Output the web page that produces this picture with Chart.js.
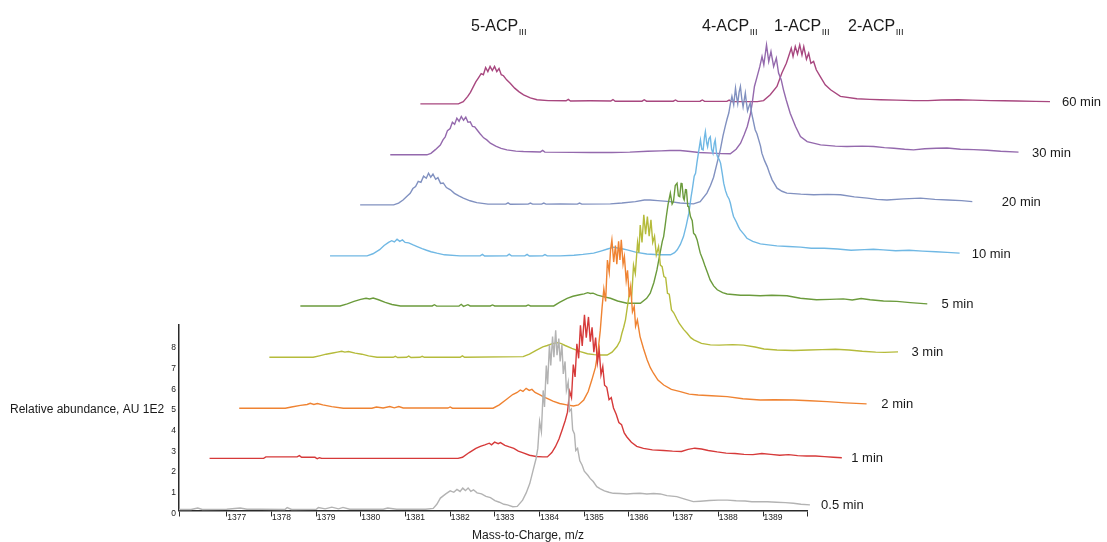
<!DOCTYPE html>
<html><head><meta charset="utf-8">
<script src="https://cdn.jsdelivr.net/npm/chart.js@4.4.1/dist/chart.umd.min.js"></script>
<style>html,body{margin:0;padding:0;background:#fff;}#wrap{width:1107px;height:542px;}</style>
</head><body><div id="wrap"><canvas id="c" width="1107" height="542"></canvas></div>
<script>
// ---- data: [m/z, relative abundance (AU 1E2)] per time point ----
const traceLabels = ['0.5 min','1 min','2 min','3 min','5 min','10 min','20 min','30 min','60 min'];
const t05 = [[1375.93,0.05],[1376.2,0.05],[1376.35,0.12],[1376.45,0.05],[1377.0,0.06],[1377.3,0.12],[1377.45,0.06],[1377.75,0.06],[1378.3,0.05],[1378.35,0.14],[1378.45,0.05],[1379.0,0.06],[1379.05,0.14],[1379.2,0.08],[1379.35,0.16],[1379.5,0.08],[1379.6,0.15],[1379.75,0.06],[1380.5,0.06],[1380.6,0.12],[1380.8,0.06],[1381.45,0.06],[1381.62,0.1],[1381.7,0.3],[1381.78,0.6],[1381.9,0.8],[1382.0,0.95],[1382.08,0.88],[1382.15,1.02],[1382.22,0.92],[1382.28,1.08],[1382.34,0.96],[1382.4,1.09],[1382.46,0.93],[1382.52,1.0],[1382.6,0.85],[1382.7,0.8],[1382.8,0.68],[1382.9,0.62],[1383.0,0.48],[1383.1,0.4],[1383.2,0.3],[1383.28,0.27],[1383.4,0.18],[1383.5,0.2],[1383.62,0.5],[1383.7,0.85],[1383.78,1.3],[1383.85,1.9],[1383.92,2.5],[1383.96,3.0],[1384.0,4.3],[1384.04,3.8],[1384.08,5.8],[1384.11,5.0],[1384.15,7.0],[1384.18,6.1],[1384.22,8.0],[1384.25,7.0],[1384.29,8.4],[1384.32,7.4],[1384.36,8.7],[1384.39,7.5],[1384.43,8.3],[1384.46,7.2],[1384.5,8.0],[1384.53,6.6],[1384.57,7.2],[1384.6,5.8],[1384.64,6.2],[1384.67,4.8],[1384.71,4.9],[1384.74,3.9],[1384.78,3.7],[1384.81,2.9],[1384.85,3.0],[1384.9,2.4],[1384.95,2.2],[1385.0,1.9],[1385.08,1.7],[1385.13,1.55],[1385.2,1.4],[1385.28,1.15],[1385.36,1.05],[1385.45,0.95],[1385.55,0.88],[1385.65,0.83],[1385.8,0.82],[1385.95,0.8],[1386.1,0.82],[1386.25,0.83],[1386.4,0.8],[1386.55,0.82],[1386.7,0.8],[1386.85,0.72],[1387.07,0.67],[1387.25,0.55],[1387.44,0.43],[1387.6,0.45],[1387.8,0.48],[1388.0,0.5],[1388.2,0.5],[1388.4,0.47],[1388.6,0.46],[1388.75,0.42],[1388.94,0.43],[1389.1,0.42],[1389.3,0.4],[1389.5,0.38],[1389.68,0.35],[1389.85,0.3],[1390.05,0.27]];
const t1 = [[1375.94,0.07],[1377.15,0.07],[1377.2,0.14],[1377.9,0.14],[1377.95,0.2],[1378.0,0.12],[1378.3,0.12],[1378.35,0.05],[1378.4,0.1],[1378.45,0.07],[1381.5,0.07],[1381.6,0.12],[1381.75,0.35],[1381.9,0.55],[1382.0,0.65],[1382.1,0.72],[1382.2,0.8],[1382.25,0.72],[1382.32,0.85],[1382.4,0.78],[1382.45,0.83],[1382.55,0.7],[1382.65,0.62],[1382.75,0.55],[1382.85,0.42],[1382.96,0.33],[1383.1,0.22],[1383.25,0.16],[1383.4,0.14],[1383.5,0.14],[1383.6,0.35],[1383.68,0.63],[1383.76,1.0],[1383.83,1.44],[1383.9,1.9],[1383.95,2.3],[1384.0,3.3],[1384.04,3.0],[1384.08,4.6],[1384.12,4.0],[1384.16,5.6],[1384.2,4.9],[1384.24,6.5],[1384.28,5.5],[1384.33,7.0],[1384.37,5.9],[1384.42,6.9],[1384.46,5.7],[1384.5,6.4],[1384.54,5.2],[1384.58,5.9],[1384.62,4.7],[1384.66,5.3],[1384.7,4.1],[1384.74,4.5],[1384.78,3.6],[1384.83,3.5],[1384.88,2.9],[1384.93,3.0],[1384.98,2.5],[1385.04,2.2],[1385.1,1.8],[1385.16,1.7],[1385.22,1.3],[1385.28,1.1],[1385.38,0.85],[1385.5,0.65],[1385.65,0.55],[1385.85,0.48],[1386.1,0.45],[1386.3,0.42],[1386.5,0.4],[1386.65,0.5],[1386.8,0.56],[1386.95,0.52],[1387.1,0.45],[1387.3,0.38],[1387.5,0.32],[1387.7,0.3],[1387.9,0.26],[1388.1,0.25],[1388.3,0.3],[1388.5,0.26],[1388.7,0.22],[1388.9,0.25],[1389.1,0.2],[1389.3,0.18],[1389.5,0.18],[1389.7,0.15],[1389.9,0.12],[1390.09,0.1]];
const t2 = [[1375.93,0.04],[1376.96,0.04],[1377.1,0.1],[1377.3,0.18],[1377.45,0.22],[1377.52,0.28],[1377.6,0.22],[1377.68,0.27],[1377.8,0.2],[1378.0,0.12],[1378.26,0.04],[1378.9,0.04],[1379.0,0.1],[1379.15,0.05],[1379.3,0.12],[1379.4,0.06],[1379.5,0.12],[1379.6,0.05],[1380.6,0.05],[1380.65,0.1],[1380.7,0.04],[1381.61,0.04],[1381.75,0.2],[1381.9,0.45],[1382.05,0.7],[1382.15,0.8],[1382.22,0.92],[1382.28,0.85],[1382.35,1.0],[1382.42,0.9],[1382.48,0.95],[1382.55,0.8],[1382.65,0.7],[1382.75,0.58],[1382.82,0.52],[1382.95,0.38],[1383.1,0.27],[1383.26,0.2],[1383.41,0.15],[1383.52,0.2],[1383.64,0.44],[1383.74,0.85],[1383.82,1.4],[1383.9,2.0],[1383.96,2.8],[1384.01,3.8],[1384.05,4.9],[1384.09,5.8],[1384.13,5.2],[1384.17,7.2],[1384.21,6.6],[1384.24,7.7],[1384.27,8.17],[1384.31,7.1],[1384.35,7.9],[1384.38,7.0],[1384.42,8.1],[1384.45,7.2],[1384.48,8.17],[1384.52,7.0],[1384.55,7.36],[1384.59,6.2],[1384.62,6.7],[1384.66,5.4],[1384.69,5.9],[1384.73,4.7],[1384.77,4.95],[1384.8,4.0],[1384.84,4.3],[1384.9,3.5],[1384.98,2.9],[1385.06,2.37],[1385.13,2.0],[1385.2,1.73],[1385.3,1.4],[1385.43,1.16],[1385.6,0.95],[1385.8,0.84],[1386.0,0.72],[1386.2,0.68],[1386.5,0.64],[1386.85,0.6],[1387.2,0.5],[1387.59,0.44],[1387.9,0.45],[1388.33,0.44],[1388.7,0.4],[1389.09,0.36],[1389.5,0.3],[1389.97,0.25]];
const t3 = [[1375.93,0.05],[1376.91,0.05],[1377.05,0.12],[1377.2,0.2],[1377.35,0.26],[1377.45,0.3],[1377.55,0.34],[1377.62,0.3],[1377.7,0.33],[1377.85,0.25],[1378.0,0.2],[1378.15,0.12],[1378.34,0.05],[1378.7,0.05],[1378.75,0.1],[1378.8,0.04],[1379.0,0.05],[1379.05,0.11],[1379.1,0.04],[1379.3,0.05],[1379.35,0.1],[1379.4,0.05],[1380.2,0.05],[1380.25,0.12],[1380.3,0.05],[1381.61,0.08],[1381.75,0.2],[1381.9,0.38],[1382.05,0.55],[1382.15,0.62],[1382.25,0.7],[1382.37,0.76],[1382.45,0.72],[1382.55,0.62],[1382.7,0.48],[1382.89,0.32],[1383.05,0.22],[1383.2,0.18],[1383.34,0.16],[1383.49,0.16],[1383.6,0.3],[1383.71,0.57],[1383.78,0.85],[1383.82,1.21],[1383.86,1.5],[1383.9,1.86],[1383.95,2.6],[1384.0,3.3],[1384.04,3.0],[1384.08,4.5],[1384.12,4.1],[1384.17,5.6],[1384.2,5.1],[1384.23,6.44],[1384.27,5.6],[1384.31,6.93],[1384.35,6.0],[1384.39,6.85],[1384.43,5.9],[1384.47,6.69],[1384.51,5.6],[1384.55,5.9],[1384.59,5.0],[1384.64,5.4],[1384.68,4.5],[1384.72,4.43],[1384.76,3.95],[1384.8,3.9],[1384.84,3.14],[1384.88,3.1],[1384.93,2.34],[1384.98,2.2],[1385.05,1.9],[1385.1,1.7],[1385.2,1.4],[1385.28,1.21],[1385.36,1.0],[1385.43,0.89],[1385.6,0.72],[1385.8,0.65],[1386.0,0.64],[1386.3,0.66],[1386.54,0.64],[1386.8,0.55],[1387.0,0.45],[1387.29,0.4],[1387.66,0.38],[1388.0,0.4],[1388.3,0.42],[1388.6,0.44],[1388.9,0.4],[1389.2,0.34],[1389.5,0.3],[1389.7,0.29],[1390.0,0.31]];
const t5 = [[1375.95,0.08],[1376.84,0.08],[1377.0,0.18],[1377.15,0.3],[1377.3,0.4],[1377.42,0.45],[1377.5,0.42],[1377.58,0.46],[1377.7,0.38],[1377.85,0.25],[1378.0,0.15],[1378.19,0.08],[1378.9,0.08],[1378.95,0.14],[1379.0,0.07],[1379.5,0.08],[1379.55,0.16],[1379.6,0.06],[1379.7,0.14],[1379.75,0.08],[1380.2,0.08],[1380.25,0.13],[1380.3,0.08],[1381.0,0.08],[1381.05,0.13],[1381.1,0.08],[1381.62,0.08],[1381.75,0.25],[1381.92,0.45],[1382.05,0.55],[1382.2,0.62],[1382.3,0.66],[1382.38,0.72],[1382.44,0.68],[1382.5,0.7],[1382.6,0.6],[1382.75,0.52],[1382.89,0.45],[1383.05,0.32],[1383.26,0.21],[1383.56,0.21],[1383.7,0.45],[1383.78,0.7],[1383.86,1.2],[1383.93,1.82],[1384.0,2.63],[1384.05,3.2],[1384.08,3.43],[1384.11,3.9],[1384.14,4.4],[1384.18,5.0],[1384.23,5.53],[1384.27,5.0],[1384.3,5.12],[1384.34,5.9],[1384.38,6.01],[1384.41,5.4],[1384.44,5.36],[1384.47,6.0],[1384.49,6.01],[1384.52,5.3],[1384.54,5.2],[1384.57,5.7],[1384.59,5.69],[1384.62,4.9],[1384.64,4.88],[1384.68,4.4],[1384.72,4.2],[1384.75,3.59],[1384.79,3.5],[1384.83,3.27],[1384.87,2.9],[1384.9,2.63],[1384.96,2.3],[1385.01,1.98],[1385.06,1.7],[1385.12,1.34],[1385.2,1.05],[1385.28,0.86],[1385.4,0.72],[1385.5,0.66],[1385.8,0.6],[1386.0,0.6],[1386.24,0.57],[1386.5,0.6],[1386.84,0.57],[1387.14,0.45],[1387.5,0.38],[1387.8,0.4],[1388.1,0.42],[1388.3,0.37],[1388.5,0.44],[1388.7,0.38],[1389.0,0.32],[1389.3,0.3],[1389.6,0.24],[1389.98,0.18]];
const t10 = [[1375.94,0.05],[1376.77,0.05],[1376.9,0.15],[1377.05,0.35],[1377.15,0.55],[1377.25,0.7],[1377.32,0.78],[1377.38,0.72],[1377.44,0.85],[1377.5,0.75],[1377.56,0.82],[1377.62,0.7],[1377.7,0.68],[1377.8,0.58],[1377.89,0.5],[1378.0,0.4],[1378.1,0.32],[1378.2,0.25],[1378.33,0.18],[1378.5,0.1],[1378.85,0.05],[1379.3,0.05],[1379.35,0.12],[1379.4,0.04],[1379.9,0.05],[1379.95,0.13],[1380.0,0.05],[1380.3,0.05],[1380.35,0.12],[1380.4,0.04],[1380.7,0.05],[1380.75,0.11],[1380.8,0.05],[1381.09,0.05],[1381.4,0.08],[1381.6,0.12],[1381.84,0.18],[1382.0,0.28],[1382.15,0.38],[1382.29,0.47],[1382.4,0.42],[1382.5,0.38],[1382.59,0.34],[1382.8,0.22],[1383.03,0.14],[1383.3,0.1],[1383.56,0.1],[1383.65,0.2],[1383.71,0.34],[1383.78,0.6],[1383.85,0.98],[1383.91,1.5],[1383.97,2.11],[1384.02,2.9],[1384.05,3.3],[1384.09,3.9],[1384.12,4.04],[1384.15,4.53],[1384.19,5.1],[1384.23,5.65],[1384.26,5.2],[1384.29,5.17],[1384.32,5.8],[1384.34,6.05],[1384.37,5.5],[1384.39,5.32],[1384.42,5.7],[1384.45,5.8],[1384.48,5.2],[1384.51,5.0],[1384.54,5.5],[1384.56,5.65],[1384.59,5.0],[1384.61,4.85],[1384.65,4.7],[1384.68,4.53],[1384.72,4.0],[1384.75,3.56],[1384.79,3.2],[1384.83,2.95],[1384.87,2.8],[1384.9,2.59],[1384.94,2.2],[1384.97,1.95],[1385.03,1.7],[1385.08,1.46],[1385.12,1.3],[1385.2,1.1],[1385.27,0.9],[1385.4,0.75],[1385.57,0.63],[1385.75,0.58],[1385.94,0.53],[1386.2,0.5],[1386.47,0.47],[1386.71,0.42],[1387.0,0.42],[1387.3,0.38],[1387.6,0.32],[1387.9,0.35],[1388.1,0.37],[1388.32,0.34],[1388.6,0.3],[1388.9,0.32],[1389.2,0.28],[1389.5,0.25],[1389.75,0.22],[1390.03,0.18]];
const t20 = [[1375.94,0.06],[1376.69,0.06],[1376.8,0.15],[1376.9,0.3],[1377.0,0.5],[1377.06,0.62],[1377.12,0.85],[1377.18,0.95],[1377.24,1.2],[1377.3,1.15],[1377.36,1.45],[1377.42,1.35],[1377.47,1.59],[1377.52,1.4],[1377.57,1.55],[1377.63,1.3],[1377.68,1.38],[1377.74,1.1],[1377.8,1.12],[1377.87,0.9],[1377.96,0.79],[1378.05,0.62],[1378.15,0.5],[1378.25,0.39],[1378.4,0.26],[1378.55,0.17],[1378.8,0.1],[1379.2,0.1],[1379.25,0.16],[1379.3,0.09],[1379.7,0.1],[1379.75,0.15],[1379.8,0.1],[1380.0,0.1],[1380.05,0.15],[1380.1,0.1],[1380.42,0.11],[1380.8,0.1],[1380.85,0.15],[1380.9,0.1],[1381.54,0.11],[1381.8,0.15],[1382.1,0.22],[1382.3,0.3],[1382.43,0.3],[1382.6,0.27],[1382.88,0.22],[1383.1,0.15],[1383.4,0.11],[1383.55,0.22],[1383.7,0.63],[1383.78,1.0],[1383.85,1.4],[1383.93,2.1],[1384.0,2.72],[1384.06,3.4],[1384.11,3.85],[1384.15,4.2],[1384.19,4.5],[1384.23,5.0],[1384.26,5.3],[1384.3,4.9],[1384.34,5.7],[1384.37,5.2],[1384.39,4.95],[1384.42,5.5],[1384.45,5.78],[1384.48,5.2],[1384.51,4.8],[1384.54,5.2],[1384.56,5.46],[1384.59,4.9],[1384.61,4.6],[1384.64,4.8],[1384.67,4.98],[1384.7,4.5],[1384.73,4.2],[1384.78,3.69],[1384.82,3.5],[1384.86,3.2],[1384.9,2.9],[1384.93,2.56],[1384.99,2.2],[1385.05,1.91],[1385.1,1.6],[1385.16,1.27],[1385.22,1.05],[1385.27,0.87],[1385.38,0.72],[1385.49,0.63],[1385.8,0.58],[1386.09,0.55],[1386.4,0.57],[1386.69,0.55],[1387.0,0.45],[1387.29,0.39],[1387.5,0.33],[1387.73,0.3],[1388.1,0.35],[1388.48,0.39],[1388.8,0.33],[1389.1,0.3],[1389.4,0.27],[1389.64,0.22]];
const t30 = [[1375.94,0.03],[1376.76,0.03],[1376.85,0.1],[1376.95,0.28],[1377.06,0.5],[1377.12,0.75],[1377.17,0.9],[1377.22,1.2],[1377.28,1.3],[1377.33,1.6],[1377.38,1.5],[1377.43,1.8],[1377.48,1.65],[1377.53,1.88],[1377.58,1.7],[1377.63,1.85],[1377.68,1.6],[1377.73,1.62],[1377.78,1.4],[1377.83,1.38],[1377.88,1.24],[1377.95,1.05],[1378.03,0.85],[1378.1,0.75],[1378.18,0.59],[1378.3,0.45],[1378.42,0.34],[1378.55,0.27],[1378.75,0.21],[1378.92,0.19],[1379.3,0.17],[1379.35,0.24],[1379.4,0.16],[1380.0,0.15],[1380.42,0.14],[1380.9,0.14],[1381.3,0.16],[1381.7,0.2],[1382.0,0.22],[1382.2,0.24],[1382.43,0.24],[1382.6,0.2],[1382.85,0.14],[1383.16,0.11],[1383.35,0.09],[1383.55,0.08],[1383.68,0.3],[1383.78,0.59],[1383.86,1.0],[1383.93,1.4],[1384.0,2.0],[1384.04,2.53],[1384.09,3.33],[1384.15,3.81],[1384.21,4.29],[1384.26,4.78],[1384.3,4.38],[1384.36,5.34],[1384.41,4.54],[1384.46,5.02],[1384.52,4.29],[1384.58,4.7],[1384.63,3.98],[1384.69,3.65],[1384.74,3.17],[1384.8,2.69],[1384.89,2.04],[1385.01,1.4],[1385.12,0.91],[1385.27,0.67],[1385.57,0.51],[1385.9,0.45],[1386.16,0.43],[1386.5,0.45],[1386.76,0.43],[1387.0,0.38],[1387.21,0.35],[1387.45,0.3],[1387.65,0.27],[1387.9,0.32],[1388.16,0.35],[1388.4,0.36],[1388.7,0.3],[1389.0,0.28],[1389.3,0.25],[1389.6,0.2],[1390.0,0.16]];
const t60 = [[1375.94,0.04],[1376.79,0.04],[1376.9,0.15],[1377.0,0.4],[1377.06,0.6],[1377.12,0.85],[1377.18,1.1],[1377.24,1.3],[1377.3,1.5],[1377.35,1.45],[1377.4,1.8],[1377.45,1.6],[1377.5,1.85],[1377.55,1.65],[1377.6,1.85],[1377.65,1.6],[1377.7,1.75],[1377.75,1.45],[1377.8,1.4],[1377.87,1.2],[1377.95,1.04],[1378.05,0.8],[1378.15,0.62],[1378.25,0.48],[1378.4,0.33],[1378.55,0.24],[1378.8,0.2],[1379.2,0.19],[1379.25,0.26],[1379.3,0.18],[1379.74,0.19],[1380.2,0.18],[1380.25,0.25],[1380.3,0.17],[1380.9,0.17],[1380.95,0.24],[1381.0,0.17],[1381.6,0.17],[1381.65,0.23],[1381.7,0.16],[1382.2,0.17],[1382.25,0.23],[1382.3,0.16],[1382.8,0.16],[1382.85,0.22],[1382.9,0.15],[1383.48,0.15],[1383.62,0.2],[1383.77,0.48],[1383.92,0.88],[1384.03,1.53],[1384.13,2.0],[1384.18,2.33],[1384.24,2.73],[1384.28,2.33],[1384.33,2.81],[1384.38,2.45],[1384.43,2.89],[1384.48,2.4],[1384.52,2.81],[1384.58,2.2],[1384.63,2.49],[1384.68,2.0],[1384.74,2.09],[1384.8,1.69],[1384.89,1.36],[1385.0,0.96],[1385.12,0.72],[1385.34,0.4],[1385.71,0.29],[1386.0,0.26],[1386.24,0.24],[1386.6,0.22],[1386.98,0.2],[1387.3,0.2],[1387.6,0.23],[1387.98,0.24],[1388.3,0.22],[1388.7,0.2],[1389.0,0.19],[1389.3,0.18],[1389.7,0.16],[1390.03,0.15]];
const xTickValues = [1377,1378,1379,1380,1381,1382,1383,1384,1385,1386,1387,1388,1389];
const yTickValues = [0,1,2,3,4,5,6,7,8];
const peakNames = ['5-ACP','4-ACP','1-ACP','2-ACP'];
const peakSub = 'III';
const xTitle = 'Mass-to-Charge, m/z';
const yTitle = 'Relative abundance, AU 1E2';

// ---- layout / style ----
const traces = [t05, t1, t2, t3, t5, t10, t20, t30, t60];
const colors = ['#b3b3b3','#d63a3a','#ef8332','#b5bb3b','#6b9b3c','#70b8e4','#8191c0','#9469ad','#a8477f'];
const STEP_X = 0.674, STEP_Y = 2.45;     // waterfall offset per trace
const X_MIN = 1375.93, X_MAX = 1390.0, Y_MAX = 8.96;
const FONT = '"Liberation Sans", Arial, sans-serif';

const datasets = traces.map((t, i) => ({
  label: traceLabels[i],
  data: t.map(p => ({ x: p[0] + i * STEP_X, y: p[1] + i * STEP_Y })),
  showLine: true, borderColor: colors[i], backgroundColor: colors[i],
  borderWidth: 1.4, pointRadius: 0, tension: 0, clip: false, fill: false
}));

const textPlugin = {
  id: 'texts',
  afterDraw(chart) {
    const ctx = chart.ctx, xs = chart.scales.x, ys = chart.scales.y;
    ctx.save();
    ctx.fillStyle = '#1a1a1a';
    ctx.textAlign = 'left';
    ctx.textBaseline = 'middle';
    ctx.font = '13px ' + FONT;
    traces.forEach((t, i) => {
      const last = t[t.length - 1][1];
      ctx.fillText(traceLabels[i], xs.getPixelForValue(1390.3 + i * STEP_X), ys.getPixelForValue(last + i * STEP_Y) + 1);
    });
    ctx.font = '12px ' + FONT;
    ctx.fillText(yTitle, 10, 410);
    ctx.fillText(xTitle, 472, 536);
    const lx = [471, 702, 774, 848];
    ctx.textBaseline = 'alphabetic';
    peakNames.forEach((n, k) => {
      ctx.font = '16px ' + FONT;
      ctx.fillText(n, lx[k], 31);
      const w = ctx.measureText(n).width;
      ctx.font = '9.5px ' + FONT;
      ctx.fillText(peakSub, lx[k] + w + 0.5, 34.5);
    });
    ctx.restore();
  }
};

new Chart(document.getElementById('c'), {
  type: 'scatter',
  data: { datasets },
  options: {
    responsive: false, animation: false, devicePixelRatio: 1,
    layout: { padding: { left: 149, right: 299.3, top: 325, bottom: 0 } },
    plugins: { legend: { display: false }, tooltip: { enabled: false } },
    scales: {
      x: {
        type: 'linear', bounds: 'data',
        afterDataLimits: s => { s.min = X_MIN; s.max = X_MAX; },
        afterBuildTicks: s => { s.min = X_MIN; s.max = X_MAX; s.ticks = [X_MIN, ...xTickValues, X_MAX].map(v => ({ value: v })); },
        afterFit: s => { s.height = 31.5; },
        border: { display: true, color: '#2a2a2a', width: 1.5 },
        grid: { display: true, drawOnChartArea: false, drawTicks: true, tickLength: 6, color: '#2a2a2a', lineWidth: 1 },
        ticks: { autoSkip: false, maxRotation: 0, align: 'start', padding: -4, labelOffset: 0.5, color: '#222',
          font: { size: 8.5, family: FONT },
          callback: v => xTickValues.includes(v) ? String(v) : '' }
      },
      y: {
        type: 'linear', bounds: 'data',
        afterDataLimits: s => { s.min = 0; s.max = Y_MAX; },
        afterBuildTicks: s => { s.min = 0; s.max = Y_MAX; s.ticks = yTickValues.map(v => ({ value: v })); },
        afterFit: s => { s.width = 30; },
        border: { display: true, color: '#2a2a2a', width: 1.5 },
        grid: { display: false, drawTicks: false },
        ticks: { padding: 3, labelOffset: 3, color: '#222', font: { size: 8.5, family: FONT },
          callback: v => String(v) }
      }
    }
  },
  plugins: [textPlugin]
});
</script></body></html>
